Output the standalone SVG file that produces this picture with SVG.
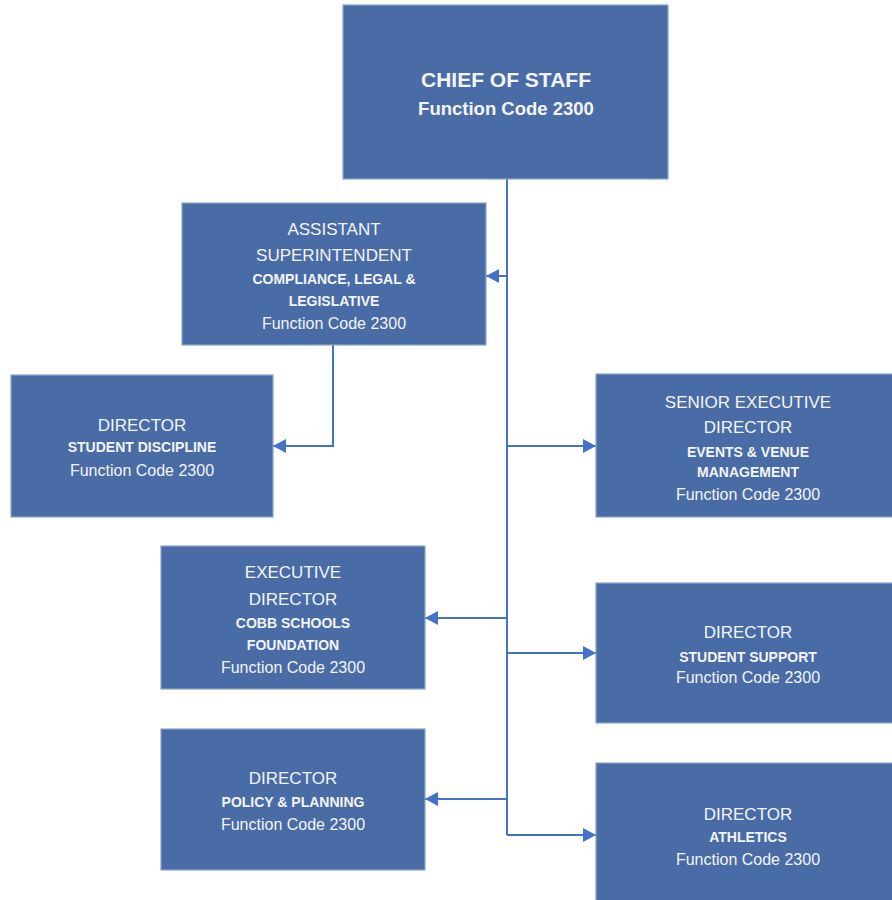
<svg xmlns="http://www.w3.org/2000/svg" width="892" height="900" viewBox="0 0 892 900">
<defs>
<style>
.box{fill:#4a6ca6;stroke:#8da3c8;stroke-width:1.2}
.t{font-family:"Liberation Sans",Arial,sans-serif;fill:#f2f4f8;text-anchor:middle}
.big{font-size:17px}
.sm{font-size:14px;font-weight:bold}
.fc{font-size:16px}
.hd{font-size:21px;font-weight:bold}
.hf{font-size:18.5px;font-weight:bold}
.ln{fill:none;stroke:#4472c4;stroke-width:2}
</style>
<marker id="ah" markerUnits="userSpaceOnUse" markerWidth="14" markerHeight="14" viewBox="0 0 14 14" refX="13" refY="7" orient="auto">
<path d="M0,0 L13,7 L0,14 Z" fill="#4472c4"/>
</marker>
</defs>
<rect width="892" height="900" fill="#ffffff"/>
<g id="connectors">
<path class="ln" d="M507,179 V835"/>
<path class="ln" d="M507,276 H486" marker-end="url(#ah)"/>
<path class="ln" d="M333,345 V446 H273" marker-end="url(#ah)"/>
<path class="ln" d="M507,446 H596" marker-end="url(#ah)"/>
<path class="ln" d="M507,618 H425" marker-end="url(#ah)"/>
<path class="ln" d="M507,653 H596" marker-end="url(#ah)"/>
<path class="ln" d="M507,799 H425" marker-end="url(#ah)"/>
<path class="ln" d="M507,835 H596" marker-end="url(#ah)"/>
</g>
<g id="chief">
<rect class="box" x="343" y="5" width="325" height="174"/>
<text class="t hd" x="506" y="87">CHIEF OF STAFF</text>
<text class="t hf" x="506" y="115">Function Code 2300</text>
</g>
<g id="assistant">
<rect class="box" x="182" y="203" width="304" height="142"/>
<text class="t big" x="334" y="235">ASSISTANT</text>
<text class="t big" x="334" y="261">SUPERINTENDENT</text>
<text class="t sm" x="334" y="284">COMPLIANCE, LEGAL &amp;</text>
<text class="t sm" x="334" y="306">LEGISLATIVE</text>
<text class="t fc" x="334" y="329">Function Code 2300</text>
</g>
<g id="discipline">
<rect class="box" x="11" y="375" width="262" height="142"/>
<text class="t big" x="142" y="431">DIRECTOR</text>
<text class="t sm" x="142" y="452">STUDENT DISCIPLINE</text>
<text class="t fc" x="142" y="476">Function Code 2300</text>
</g>
<g id="senior">
<rect class="box" x="596" y="374" width="304" height="143"/>
<text class="t big" x="748" y="408">SENIOR EXECUTIVE</text>
<text class="t big" x="748" y="433">DIRECTOR</text>
<text class="t sm" x="748" y="457">EVENTS &amp; VENUE</text>
<text class="t sm" x="748" y="477">MANAGEMENT</text>
<text class="t fc" x="748" y="500">Function Code 2300</text>
</g>
<g id="foundation">
<rect class="box" x="161" y="546" width="264" height="143"/>
<text class="t big" x="293" y="578">EXECUTIVE</text>
<text class="t big" x="293" y="605">DIRECTOR</text>
<text class="t sm" x="293" y="628">COBB SCHOOLS</text>
<text class="t sm" x="293" y="650">FOUNDATION</text>
<text class="t fc" x="293" y="673">Function Code 2300</text>
</g>
<g id="support">
<rect class="box" x="596" y="583" width="304" height="140"/>
<text class="t big" x="748" y="638">DIRECTOR</text>
<text class="t sm" x="748" y="662">STUDENT SUPPORT</text>
<text class="t fc" x="748" y="683">Function Code 2300</text>
</g>
<g id="policy">
<rect class="box" x="161" y="729" width="264" height="141"/>
<text class="t big" x="293" y="784">DIRECTOR</text>
<text class="t sm" x="293" y="807">POLICY &amp; PLANNING</text>
<text class="t fc" x="293" y="830">Function Code 2300</text>
</g>
<g id="athletics">
<rect class="box" x="596" y="763" width="304" height="142"/>
<text class="t big" x="748" y="820">DIRECTOR</text>
<text class="t sm" x="748" y="842">ATHLETICS</text>
<text class="t fc" x="748" y="865">Function Code 2300</text>
</g>
</svg>
